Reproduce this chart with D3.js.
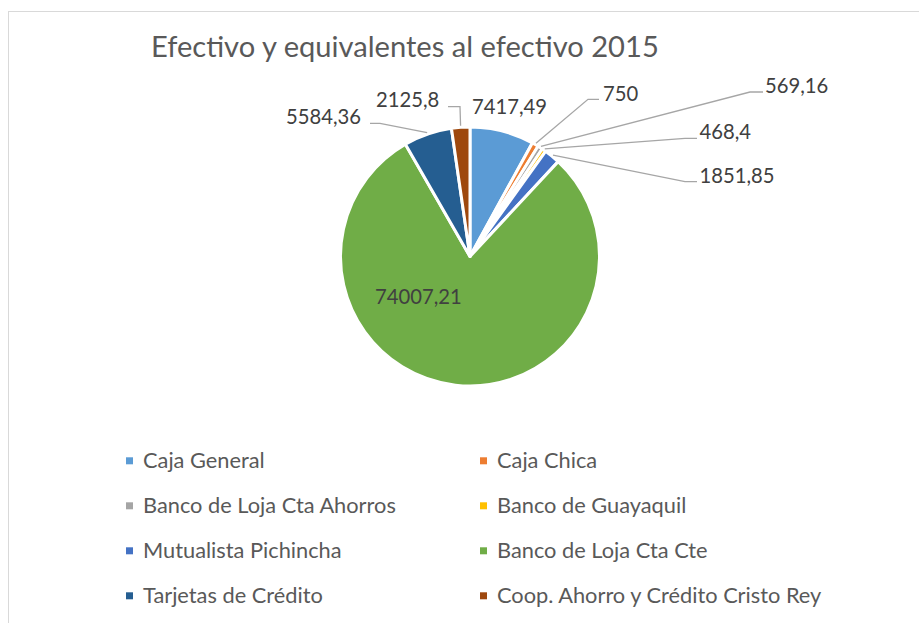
<!DOCTYPE html>
<html>
<head>
<meta charset="utf-8">
<script src="https://cdn.jsdelivr.net/npm/d3@7"></script>
<style>
  html, body { margin: 0; padding: 0; background: #ffffff; }
  svg { display: block; }
  text { font-family: Lato, "Open Sans", "Noto Sans", sans-serif; }
</style>
</head>
<body>
<svg id="chart" width="919" height="623"></svg>
<script>
// ---- data ----
const title = "Efectivo y equivalentes al efectivo 2015";
const categories = [
  "Caja General",
  "Caja Chica",
  "Banco de Loja Cta Ahorros",
  "Banco de Guayaquil",
  "Mutualista Pichincha",
  "Banco de Loja Cta Cte",
  "Tarjetas de Crédito",
  "Coop. Ahorro y Crédito Cristo Rey"
];
const values = [7417.49, 750, 569.16, 468.4, 1851.85, 74007.21, 5584.36, 2125.8];
const colors = ["#5B9BD5", "#ED7D31", "#A5A5A5", "#FFC000", "#4472C4", "#70AD47", "#255E91", "#9E480E"];

// ---- layout (positions of data labels, chosen as in the reference) ----
const labelLayout = [
  { x: 472, y: 114.3, line: null },
  { x: 603, y: 100.5, line: { lx: 599, ex: 588, ly: 99.3 } },
  { x: 765, y: 92.7, line: { lx: 763, ex: 750, ly: 92 } },
  { x: 699.5, y: 139, line: { lx: 697, ex: 685, ly: 138.3 } },
  { x: 699.5, y: 182.7, line: { lx: 697, ex: 685, ly: 181.7 } },
  { x: 375, y: 304.3, line: null },
  { x: 286, y: 124.3, line: { lx: 370, ex: 380, ly: 123.3 } },
  { x: 376, y: 106.7, line: { lx: 448, ex: 460, ly: 106.7 } }
];

const cx = 470, cy = 256.5, R = 128;
const svg = d3.select("#chart");

// chart border
svg.append("rect")
  .attr("x", 8.5).attr("y", 11.5)
  .attr("width", 1000).attr("height", 1000)
  .attr("fill", "#ffffff")
  .attr("stroke", "#d9d9d9").attr("stroke-width", 1);

// horizontal squeeze factor so that the text width matches a target at a given size
function squeezeFor(str, fs, target) {
  const p = svg.append("text").attr("font-size", fs).text(str);
  const w = p.node().getComputedTextLength();
  p.remove();
  return target / w;
}
function placeText(sel, x, y, k) {
  sel.attr("x", 0).attr("y", 0)
     .attr("transform", `translate(${x},${y}) scale(${k},1)`);
}

// title
const titleFs = 28.5;
const tk = squeezeFor(title, titleFs, 508);
const t = svg.append("text")
  .attr("fill", "#595959")
  .attr("font-size", titleFs)
  .text(title);
placeText(t, 151, 57.3, tk);

// pie
const pie = d3.pie().sort(null).value(d => d);
const arcs = pie(values);
const arc = d3.arc().innerRadius(0).outerRadius(R + 1.5);
const leaderArc = d3.arc().innerRadius(R + 3).outerRadius(R + 3);

const g = svg.append("g").attr("transform", `translate(${cx},${cy})`);
g.selectAll("path.slice")
  .data(arcs)
  .join("path")
  .attr("class", "slice")
  .attr("d", arc)
  .attr("fill", (d, i) => colors[i])
  .attr("stroke", "#ffffff")
  .attr("stroke-width", 3)
  .attr("stroke-linejoin", "round");

// leader lines
arcs.forEach((d, i) => {
  const L = labelLayout[i];
  if (!L.line) return;
  const [px, py] = leaderArc.centroid(d);
  const path = d3.path();
  path.moveTo(L.line.lx, L.line.ly);
  path.lineTo(L.line.ex, L.line.ly);
  path.lineTo(cx + px, cy + py);
  svg.append("path")
    .attr("d", path.toString())
    .attr("fill", "none")
    .attr("stroke", "#a6a6a6")
    .attr("stroke-width", 1.3);
});

// data labels
const fmt = v => String(v).replace(".", ",");
const labelFs = 21;
const lk = squeezeFor(fmt(values[0]), labelFs, 75);
svg.selectAll("text.dlabel")
  .data(arcs)
  .join("text")
  .attr("class", "dlabel")
  .attr("fill", "#404040")
  .attr("font-size", labelFs)
  .text(d => fmt(d.data))
  .each(function(d, i) {
    placeText(d3.select(this), labelLayout[i].x, labelLayout[i].y, lk);
  });

// legend
const colX = d3.scaleOrdinal().domain([0, 1]).range([126, 480]);
const rowY = d3.scaleLinear().domain([0, 3]).range([460.8, 595.8]);
const legFs = 21;
const gk = squeezeFor(categories[2], legFs, 253);

const items = svg.selectAll("g.leg")
  .data(categories)
  .join("g")
  .attr("class", "leg")
  .attr("transform", (d, i) => `translate(${colX(i % 2)},${rowY(Math.floor(i / 2))})`);
items.append("rect")
  .attr("x", 0).attr("y", -3.5)
  .attr("width", 7).attr("height", 7)
  .attr("fill", (d, i) => colors[i]);
items.append("text")
  .attr("fill", "#595959")
  .attr("font-size", legFs)
  .text(d => d)
  .each(function() { placeText(d3.select(this), 17, 7.2, gk); });
</script>
</body>
</html>
